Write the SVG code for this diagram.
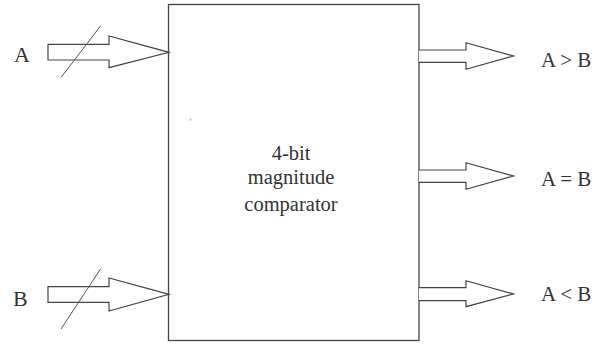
<svg xmlns="http://www.w3.org/2000/svg" width="603" height="344" viewBox="0 0 603 344">
<style>
.ln{fill:none;stroke:#444;stroke-width:1.3;stroke-linejoin:miter}
.ar{fill:#fff;stroke:#444;stroke-width:1.2;stroke-linejoin:miter}
.sl{stroke:#555;stroke-width:1}
.lbl{font-size:22px}
.out{font-size:21px}
.ctr{font-size:20.5px;text-anchor:middle}
</style>
<rect width="603" height="344" fill="#fff"/>
<g font-family="'Liberation Serif', 'Times New Roman', 'DejaVu Serif', serif" fill="#333">
<g id="comparator">
<rect class="ln" x="168.5" y="4.5" width="250.5" height="336"/>
<text class="ctr" x="291" y="160" font-family="Liberation Serif, serif">4-bit</text>
<text class="ctr" x="291" y="184" font-family="Liberation Serif, serif">magnitude</text>
<text class="ctr" x="291" y="211" font-family="Liberation Serif, serif">comparator</text>
<rect x="189.5" y="118.5" width="2" height="2" fill="#bbb"/>
</g>
<g id="input-A">
<text class="lbl" x="14" y="61.5" font-family="Liberation Serif, serif">A</text>
</g>
<g id="input-B">
<text class="lbl" x="13" y="305.5" font-family="Liberation Serif, serif">B</text>
</g>
<g id="output-gt">
<text class="out" x="541" y="67" font-family="Liberation Serif, serif">A &gt; B</text>
</g>
<g id="output-eq">
<text class="out" x="541" y="186" font-family="Liberation Serif, serif">A = B</text>
</g>
<g id="output-lt">
<text class="out" x="541" y="301" font-family="Liberation Serif, serif">A &lt; B</text>
</g>
</g>
<g id="connectors">
<path class="ar" d="M48,44.3 H109 V36 L169,52.3 L109,67.7 V60 H48 Z"/>
<line class="sl" x1="61" y1="77.5" x2="100.5" y2="26"/>
<path class="ar" d="M48,286.7 H109 V278 L169,294.3 L109,311 V302.3 H48 Z"/>
<line class="sl" x1="61" y1="329" x2="100.5" y2="269"/>
<path class="ar" d="M419,50 H466 V42.7 L513.5,56 L466,69.3 V62.3 H419"/>
<path class="ar" d="M419,170 H466 V162.7 L513.5,176 L466,189.3 V182.3 H419"/>
<path class="ar" d="M419,287.7 H466 V280.7 L513.5,294 L466,306.7 V300.7 H419"/>
</g>
</svg>
